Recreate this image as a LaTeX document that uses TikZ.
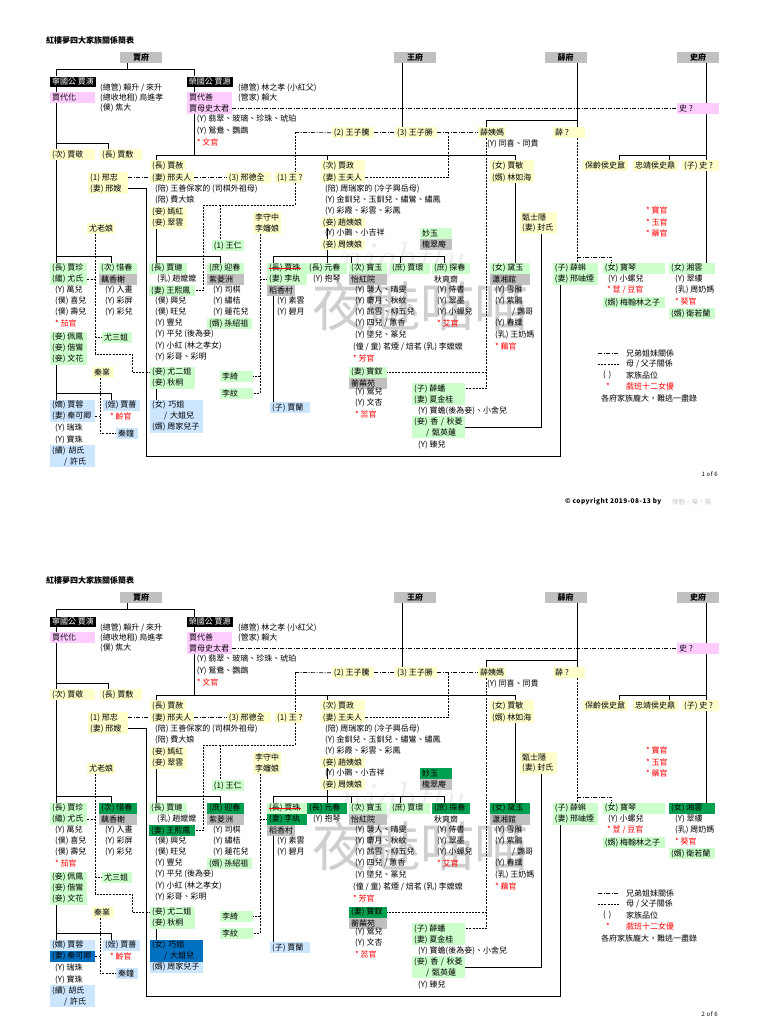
\documentclass[tikz,border=0pt]{standalone}
\usepackage{fontspec}
\newfontfamily\cjk{Noto Sans CJK TC}
\newfontfamily\cjkwide[LetterSpace=7]{Noto Sans CJK TC}
\usepackage{xcolor}
\usepackage{tikz}
\usetikzlibrary{backgrounds}
\pgfdeclarelayer{paper}
\pgfsetlayers{paper,background,main}
\definecolor{hdGray}{HTML}{C0C0C0}
\definecolor{bkPink}{HTML}{FFCCFF}
\definecolor{bkYellow}{HTML}{FFFFCC}
\definecolor{bkGreen}{HTML}{CCFFCC}
\definecolor{bkBlue}{HTML}{CCE6FF}
\definecolor{bkRoom}{HTML}{C0C0C0}
\definecolor{hlGreen}{HTML}{00A050}
\definecolor{hlBlue}{HTML}{0070C0}
\definecolor{txRed}{HTML}{FF0000}
\tikzset{
 hdbox/.style={fill=hdGray, minimum width=42pt, minimum height=11pt, inner sep=0pt, font=\cjk\fontsize{8}{11}\selectfont\bfseries},
 bx/.style={anchor=north west, inner xsep=2pt, inner ysep=0pt, minimum height=11pt},
 pink/.style={bx, fill=bkPink}, ylw/.style={bx, fill=bkYellow}, grn/.style={bx, fill=bkGreen},
 blu/.style={bx, fill=bkBlue}, room/.style={bx, fill=bkRoom}, blk/.style={bx, fill=black, text=white, minimum height=10pt},
 tx/.style={anchor=west, inner sep=0pt}, rd/.style={tx, text=txRed},
 kin/.style={line width=0.7pt},
 sib/.style={line width=0.7pt, dash pattern=on 4pt off 1.5pt on 1pt off 1.5pt},
 par/.style={line width=0.7pt, dash pattern=on 2pt off 1.2pt},
}
% box: name, style, x, top y, width, text
\newcommand{\famBox}[6]{\node[#2] (#1) at (#3,#4) {\makebox[\dimexpr#5pt-4pt\relax][l]{#6}};}
% text row: name, style, x, y, text
\newcommand{\famTxt}[5]{\node[#2] (#1) at (#3,#4) {#5};}
\begin{document}
\begin{tikzpicture}[x=1pt, y=-1pt, every node/.style={font=\cjk\fontsize{8}{11}\selectfont, inner sep=0pt}]
\begin{pgfonlayer}{paper}
\path[fill=white, use as bounding box] (0,0) rectangle (768,1024);
\end{pgfonlayer}
\foreach \pg in {1,2} {
\ifnum\pg=2
 \tikzset{star/.style={bx, fill=hlGreen}, starb/.style={bx, fill=hlBlue}}
\else
 \tikzset{star/.style={grn}, starb/.style={blu}}
\fi
\begin{scope}[shift={(0,{(\pg-1)*540})}, name prefix=p\pg-]
\node[tx, font=\cjk\fontsize{8}{11}\selectfont\bfseries] (title) at (46,40) {紅樓夢四大家族關係簡表};
% houses
\node[hdbox] (jiafuHd) at (141,57.5) {賈府};
\node[hdbox] (wangfuHd) at (415,57.5) {王府};
\node[hdbox] (xuefuHd) at (565.5,57.5) {薛府};
\node[hdbox] (shifuHd) at (698,57.5) {史府};
% first generations
\famBox{ningguo}{blk}{50}{76.5}{46}{寧國公 賈演}
\famBox{rongguo}{blk}{186.7}{76.5}{46}{榮國公 賈源}
\famBox{daihua}{pink}{50}{92}{45}{賈代化}
\famBox{daishan}{pink}{187}{92}{45}{賈代善}
\famBox{shitaijun}{pink}{187}{103}{45}{賈母史太君}
\famBox{shi}{pink}{677}{103}{42}{史 ?}
\famTxt{stw1}{tx}{100}{87.5}{(總管) 賴升 / 來升}
\famTxt{stw2}{tx}{100}{97.5}{(總收地租) 烏進孝}
\famTxt{stw3}{tx}{100}{107.5}{(僕) 焦大}
\famTxt{stw4}{tx}{238}{87.5}{(總管) 林之孝 (小紅父)}
\famTxt{stw5}{tx}{238}{97.5}{(管家) 賴大}
\famTxt{jmY1}{tx}{196.7}{119}{(Y) 翡翠、玻璃、珍珠、琥珀}
\famTxt{jmY2}{tx}{196.7}{131}{(Y) 鴛鴦、鸚鵡}
\famTxt{jmA}{rd}{196.7}{142.5}{* 文官}
% parents' generation
\famBox{jiajing}{ylw}{50}{149}{45}{(次) 賈敬}
\famBox{jiafu}{ylw}{100}{149}{42}{(長) 賈敷}
\famBox{jiashe}{ylw}{150}{160}{36}{(長) 賈赦}
\famBox{xingfuren}{ylw}{150}{172}{44}{(妻) 邢夫人}
\famBox{xingzhong}{ylw}{88}{172}{40}{(1) 邢忠}
\famBox{xingsao}{ylw}{88}{183}{40}{(妻) 邢嫂}
\famBox{xingdequan}{ylw}{226.7}{172}{44}{(3) 邢德全}
\famBox{wangq}{ylw}{275}{172}{28}{(1) 王 ?}
\famBox{wangziteng}{ylw}{331.7}{127}{42}{(2) 王子騰}
\famBox{wangzisheng}{ylw}{395}{127}{42}{(3) 王子勝}
\famBox{xueyima}{ylw}{478}{127}{28}{薛姨媽}
\famBox{xue}{ylw}{553}{127}{32}{薛 ?}
\famTxt{xyY}{tx}{487}{144}{(Y) 同喜、同貴}
\famBox{jiazheng}{ylw}{320.7}{160}{44}{(次) 賈政}
\famBox{wangfuren}{ylw}{320.7}{172}{44}{(妻) 王夫人}
\famBox{jiamin}{ylw}{490}{160}{44}{(女) 賈敏}
\famBox{linruhai}{ylw}{490}{172}{44}{(婿) 林如海}
\famBox{shinai}{ylw}{583}{160}{45}{保齡侯史鼐}
\famBox{shiding}{ylw}{633}{160}{45}{忠靖侯史鼎}
\famBox{shison}{ylw}{682}{160}{37}{(子) 史 ?}
\famTxt{jsP1}{tx}{155}{189}{(陪) 王善保家的 (司棋外祖母)}
\famTxt{jsP2}{tx}{155}{199.5}{(陪) 費大娘}
\famBox{yanhong}{ylw}{150}{206.5}{37}{(妾) 嫣紅}
\famBox{cuiyun}{ylw}{150}{217.5}{37}{(妾) 翠雲}
\famTxt{jzP1}{tx}{325}{189}{(陪) 周瑞家的 (冷子興岳母)}
\famTxt{jzY1}{tx}{325}{199.5}{(Y) 金釧兒、玉釧兒、繡鸞、繡鳳}
\famTxt{jzY2}{tx}{325}{210.5}{(Y) 彩霞、彩雲、彩鳳}
\famBox{zhaoyiniang}{ylw}{320.7}{217}{44}{(妾) 趙姨娘}
\famTxt{jzY3}{tx}{325}{233}{(Y) 小鵲、小吉祥}
\famBox{zhouyiniang}{ylw}{320.7}{239}{44}{(妾) 周姨娘}
\famBox{zhenshiyin}{ylw}{520}{211.5}{37}{甄士隱}
\famBox{fengshi}{ylw}{520}{222.5}{37}{(妻) 封氏}
\famBox{lishouzhong}{ylw}{253}{211.5}{28}{李守中}
\famBox{lishenniang}{ylw}{253}{222.5}{28}{李嬸娘}
\famBox{youlaoniang}{ylw}{87}{222.5}{28}{尤老娘}
\famBox{wangren}{grn}{211.7}{240}{32}{(1) 王仁}
\famBox{miaoyu}{star}{420}{228}{32}{妙玉}
\famBox{longcui}{room}{420}{239}{32}{櫳翠庵}
\famTxt{actA}{rd}{646}{210}{* 寶官}
\famTxt{actB}{rd}{646}{222}{* 玉官}
\famTxt{actC}{rd}{646}{233}{* 藥官}
% children's generation
\famBox{jiazhen}{grn}{50}{262.5}{37}{(長) 賈珍}
\famBox{youshi}{grn}{50}{273.5}{37}{(繼) 尤氏}
\famTxt{jzhY1}{tx}{55}{290}{(Y) 萬兒}
\famTxt{jzhY2}{tx}{55}{301}{(僕) 喜兒}
\famTxt{jzhY3}{tx}{55}{312}{(僕) 壽兒}
\famTxt{jzhA}{rd}{55}{323}{* 茄官}
\famBox{peifeng}{grn}{50}{331.5}{37}{(妾) 佩鳳}
\famBox{xieluan}{grn}{50}{342.5}{37}{(妾) 偕鸞}
\famBox{wenhua}{grn}{50}{353.5}{37}{(妾) 文花}
\famBox{xichun}{star}{99}{262.5}{38}{(次) 惜春}
\famBox{ouxiang}{room}{99}{273.5}{38}{藕香榭}
\famTxt{xcY1}{tx}{105}{290}{(Y) 入畫}
\famTxt{xcY2}{tx}{105}{301}{(Y) 彩屏}
\famTxt{xcY3}{tx}{105}{312}{(Y) 彩兒}
\famBox{yousanjie}{grn}{102}{331.5}{30}{尤三姐}
\famBox{qinye}{ylw}{92}{367}{22}{秦業}
\famBox{jialian}{grn}{149}{262.5}{38}{(長) 賈璉}
\famTxt{jlR}{tx}{157}{279}{(乳) 趙嬤嬤}
\famBox{wangxifeng}{star}{149}{285}{46}{(妻) 王熙鳳}
\famTxt{jlY1}{tx}{155}{301}{(僕) 興兒}
\famTxt{jlY2}{tx}{155}{312}{(僕) 旺兒}
\famTxt{jlY3}{tx}{155}{323}{(Y) 豐兒}
\famTxt{jlY4}{tx}{155}{334}{(Y) 平兒 (後為妾)}
\famTxt{jlY5}{tx}{155}{345.5}{(Y) 小紅 (林之孝女)}
\famTxt{jlY6}{tx}{155}{357}{(Y) 彩哥、彩明}
\famBox{youerjie}{grn}{150}{366.5}{45}{(妾) 尤二姐}
\famBox{qiutong}{grn}{150}{377.5}{45}{(妾) 秋桐}
\famBox{yingchun}{star}{207}{262.5}{37}{(庶) 迎春}
\famBox{ziling}{room}{207}{273.5}{37}{紫菱洲}
\famTxt{ycY1}{tx}{213}{290}{(Y) 司棋}
\famTxt{ycY2}{tx}{213}{301}{(Y) 繡桔}
\famTxt{ycY3}{tx}{213}{312}{(Y) 蓮花兒}
\famBox{sunshaozu}{grn}{207}{318}{45}{(婿) 孫紹祖}
\famBox{liqi}{grn}{220}{371}{33}{李綺}
\famBox{liwen}{grn}{220}{387.5}{33}{李紋}
\famBox{jiazhu}{grn}{267}{262.5}{40}{(長) 賈珠}
\famBox{liwan}{star}{267}{273.5}{40}{(妻) 李紈}
\famBox{daoxiang}{room}{267}{284.5}{28}{稻香村}
\famTxt{lwY1}{tx}{277}{301}{(Y) 素雲}
\famTxt{lwY2}{tx}{277}{312}{(Y) 碧月}
\famBox{yuanchun}{star}{307}{262.5}{40}{(長) 元春}
\famTxt{yuY1}{tx}{313}{279}{(Y) 抱琴}
\famBox{baoyu}{grn}{349}{262.5}{38}{(次) 寶玉}
\famBox{yihong}{room}{349}{273.5}{38}{怡紅院}
\famTxt{byY1}{tx}{355}{290}{(Y) 襲人、晴雯}
\famTxt{byY2}{tx}{355}{301}{(Y) 麝月、秋紋}
\famTxt{byY3}{tx}{355}{312}{(Y) 茜雪、柳五兒}
\famTxt{byY4}{tx}{355}{323}{(Y) 四兒 / 蕙香}
\famTxt{byY5}{tx}{355}{334.5}{(Y) 墜兒、篆兒}
\famTxt{byY6}{tx}{353}{346.5}{(僮 / 童) 茗煙 / 焙茗 (乳) 李嬤嬤}
\famTxt{byA}{rd}{353}{358}{* 芳官}
\famBox{jiahuan}{grn}{390}{262.5}{40}{(庶) 賈環}
\famBox{tanchun}{star}{432}{262.5}{38}{(庶) 探春}
\famTxt{qiushuang}{tx}{434}{279}{秋爽齋}
\famTxt{tcY1}{tx}{437}{290}{(Y) 侍書}
\famTxt{tcY2}{tx}{437}{301}{(Y) 翠墨}
\famTxt{tcY3}{tx}{437}{312}{(Y) 小蟬兒}
\famTxt{tcA}{rd}{437}{323}{* 艾官}
\famBox{daiyu}{star}{490}{262.5}{40}{(女) 黛玉}
\famBox{xiaoxiang}{room}{490}{273.5}{40}{瀟湘館}
\famTxt{dyY1}{tx}{495}{290}{(Y) 雪雁}
\famTxt{dyY2}{tx}{495}{301}{(Y) 紫鵑}
\famTxt{dyY3}{tx}{512}{312}{/ 鸚哥}
\famTxt{dyY4}{tx}{495}{323}{(Y) 春纖}
\famTxt{dyY5}{tx}{495}{334.5}{(乳) 王奶媽}
\famTxt{dyA}{rd}{495}{346}{* 藕官}
\famBox{xueke}{grn}{552.7}{262.5}{45}{(子) 薛蝌}
\famBox{xiuyan}{grn}{552.7}{273.5}{45}{(妻) 邢岫煙}
\famBox{baoqin}{grn}{602.7}{262.5}{62}{(女) 寶琴}
\famTxt{bqY1}{tx}{608}{279}{(Y) 小螺兒}
\famTxt{bqA}{rd}{607}{289.5}{* 荳 / 豆官}
\famBox{meihanlin}{grn}{602.7}{297}{62}{(婿) 梅翰林之子}
\famBox{xiangyun}{star}{669}{262.5}{46}{(女) 湘雲}
\famTxt{xyY1}{tx}{675}{279}{(Y) 翠縷}
\famTxt{xyY2}{tx}{675}{290}{(乳) 周奶媽}
\famTxt{xyA}{rd}{675}{301}{* 葵官}
\famBox{weiruolan}{grn}{669}{308}{46}{(婿) 衛若蘭}
\famBox{baochai}{star}{349}{366.5}{38}{(妻) 寶釵}
\famBox{hengwu}{room}{349}{377.5}{38}{蘅蕪苑}
\famTxt{bcY1}{tx}{355}{392}{(Y) 鶯兒}
\famTxt{bcY2}{tx}{355}{403}{(Y) 文杏}
\famTxt{bcA}{rd}{355}{414.5}{* 蕊官}
\famBox{xuepan}{grn}{412}{383}{53}{(子) 薛蟠}
\famBox{xiajingui}{grn}{412}{394}{53}{(妻) 夏金桂}
\famTxt{xpY1}{tx}{418}{411}{(Y) 寶蟾(後為妾)、小舍兒}
\node[grn, minimum height=22pt, text width=49pt, align=left] (xiangling) at (412,416) {(妾) 香 / 秋菱\\\hspace*{12pt}/ 甄英蓮};
\famTxt{xpY2}{tx}{418}{445}{(Y) 臻兒}
% grandchildren
\famBox{jiarong}{blu}{50}{399.5}{45}{(嫡) 賈蓉}
\famBox{qinkeqing}{starb}{50}{410.5}{45}{(妻) 秦可卿}
\famTxt{qkY1}{tx}{55}{428}{(Y) 瑞珠}
\famTxt{qkY2}{tx}{55}{439.5}{(Y) 寶珠}
\node[blu, minimum height=22pt, text width=41pt, align=left] (huxu) at (50,445) {(續) 胡氏\\\hspace*{12pt}/ 許氏};
\famBox{jiaqiang}{blu}{103}{399.5}{37}{(姪) 賈薔}
\famTxt{jqA}{rd}{110}{416}{* 齡官}
\famBox{qinzhong}{blu}{116}{428}{22}{秦鐘}
\node[starb, minimum height=22pt, text width=49pt, align=left] (qiaojie) at (150,399.5) {(女) 巧姐\\\hspace*{12pt}/ 大姐兒};
\famBox{zhoujia}{blu}{150}{421.5}{53}{(婿) 周家兒子}
\famBox{jialan}{blu}{270}{402}{40}{(子) 賈蘭}
\draw[txRed, line width=0.6pt] ([xshift=2pt]jiazhu.west) -- ([xshift=-6pt]jiazhu.east);
% legend
\coordinate (lgA) at (598,353); \coordinate (lgB) at (619,353);
\coordinate (lgC) at (598,364); \coordinate (lgD) at (619,364);
\draw[sib] (lgA) -- (lgB);
\draw[par] (lgC) -- (lgD);
\famTxt{lg1}{tx}{626}{353}{兄弟姐妹關係}
\famTxt{lg2}{tx}{626}{364}{母 / 父子關係}
\famTxt{lg3k}{tx}{603}{375}{(\,\,)}
\famTxt{lg3}{tx}{626}{375}{家族品位}
\famTxt{lg4k}{rd}{606}{386}{*}
\famTxt{lg4}{rd}{626}{386}{戲班十二女優}
\famTxt{lg5}{tx}{601}{398}{各府家族龐大，難逃一盡錄}
\node[tx, anchor=east, font=\cjkwide\fontsize{6}{7}\selectfont] (pgno) at (718,474) {\pg{} of 6};
\ifnum\pg=1
 \node[tx, font=\cjkwide\fontsize{6.5}{7}\selectfont\bfseries] (copy) at (565,502) {© copyright 2019-08-13 by};
 \node[tx, text=gray!45, font=\cjk\fontsize{6.5}{7}\selectfont] (sign) at (672,502) {夜魅·喵·喵};
\fi
\begin{scope}[on background layer]
% watermark
\node[font=\fontsize{44}{44}\selectfont\itshape, text=gray!14] (wmscript) at (400,262) {nightly};
\node[font=\cjk\fontsize{54}{54}\selectfont, text=gray!38] (wmark) at (420,306) {夜魅喵喵};
% Jia lines
\coordinate (jfTop) at (127,69); \coordinate (jfL) at (56.7,69); \coordinate (jfR) at (194,69);
\draw[kin] (jiafuHd.south -| jfTop) -- (jfTop);
\draw[kin] (ningguo.north -| jfL) |- (jfR) -- (rongguo.north -| jfR);
\draw[kin] (ningguo.south -| jfL) -- (daihua.north -| jfL);
\coordinate (jjR) at (108.3,143.3);
\draw[kin] (daihua.south -| jfL) -- (jiajing.north -| jfL);
\draw[kin] (daihua.south -| jfL) |- (jjR) -- (jiafu.north -| jjR);
\coordinate (jzR) at (111.7,256.7);
\draw[kin] (jiajing.south -| jfL) -- (jiazhen.north -| jfL);
\draw[kin] (jiajing.south -| jfL) |- (jzR) -- (xichun.north -| jzR);
\coordinate (jrR) at (111.7,393);
\draw[kin] (wenhua.south -| jfL) -- (jiarong.north -| jfL);
\draw[kin] (wenhua.south -| jfL) |- (jrR) -- (jiaqiang.north -| jrR);
\draw[kin] (rongguo.south -| jfR) -- (daishan.north -| jfR);
\coordinate (rgL) at (156.7,155); \coordinate (rgM) at (327.3,155); \coordinate (rgR) at (515,155);
\draw[kin] (shitaijun.south -| jfR) -- (jfR |- rgL);
\draw[kin] (jiashe.north -| rgL) -- (rgL) -- (rgR) -- (jiamin.north -| rgR);
\draw[kin] (rgM) -- (jiazheng.north -| rgM);
\coordinate (jsR) at (220,256.7);
\draw[kin] (cuiyun.south -| rgL) |- (jsR) -- (yingchun.north -| jsR);
\draw[kin] (rgL |- jsR) -- (jialian.north -| rgL);
\draw[kin] (qiutong.south -| rgL) -- (qiaojie.north -| rgL);
\draw[kin] (linruhai.south -| rgR) -- (daiyu.north -| rgR);
\coordinate (jzL) at (273,256.7); \coordinate (jzRr) at (444,256.7);
\coordinate (byX) at (351.7,256.7); \coordinate (jhX) at (400,256.7);
\draw[kin] (zhaoyiniang.south -| rgM) -- (zhouyiniang.north -| rgM);
\draw[kin] (zhouyiniang.south -| rgM) -- (rgM |- jzL) -- (yuanchun.north -| rgM);
\draw[kin] (jiazhu.north -| jzL) -- (jzL) -- (jzRr) -- (tanchun.north -| jzRr);
\foreach \k/\c in {baoyu/byX, jiahuan/jhX}
 \draw[kin] (\c) -- (\k.north -| \c);
\draw[kin] (daoxiang.south -| jzL) -- (jialan.north -| jzL);
% Xing lines
\draw[sib] (xingzhong) -- (xingfuren);
\draw[sib] (xingfuren) -- (xingdequan);
\coordinate (xsA) at (146,188); \coordinate (xsB) at (560.7,456);
\draw[kin] (xingsao.east) -- (xingsao.east -| xsA) |- (xsB) -- (xiuyan.south -| xsB);
% Wang lines
\coordinate (wfX) at (402.7,100);
\draw[kin] (wangfuHd.south -| wfX) -- (wangzisheng.north -| wfX);
\coordinate (wgA) at (295,132.5); \coordinate (wgB) at (448,132.5);
\draw[sib] (wgA) -- (wangziteng.west);
\draw[sib] (wangziteng) -- (wangzisheng);
\draw[sib] (wangzisheng) -- (xueyima);
\draw[par] (wgA) -- (wangq.north -| wgA);
\draw[par] (wgB) |- (wangfuren.east);
\coordinate (wrA) at (203,205); \coordinate (wrB) at (220,205);
\draw[par] (wangq.south -| wgA) |- (wrA) |- (wangxifeng.east);
\draw[par] (wrB) -- (wangren.north -| wrB);
% Xue lines
\coordinate (xfX) at (577,120); \coordinate (xfY) at (486.7,120);
\draw[kin] (xuefuHd.south -| xfX) -- (xue.north -| xfX);
\draw[kin] (xfX) -- (xfY) -- (xueyima.north -| xfY);
\draw[par] (xue.south -| xfX) -- (xueke.north -| xfX);
\coordinate (xkR) at (611.7,257);
\draw[sib] (xfX |- xkR) -- (xkR) -- (baoqin.north -| xkR);
\draw[par] (xueyima.south -| xfY) |- (xuepan.east);
\draw[par] (xfY |- baochai.east) -- (baochai.east);
\coordinate (zsX) at (541.7,427);
\draw[kin] (fengshi.south -| zsX) |- (xiangling.east);
% Shi lines
\draw[sib] (shitaijun) -- (shi);
\coordinate (sfX) at (706.7,155); \coordinate (sfL) at (619,155); \coordinate (sfM) at (669,155);
\draw[kin] (shifuHd.south -| sfX) -- (shi.north -| sfX);
\draw[kin] (shi.south -| sfX) -- (sfX) -- (sfL) -- (shinai.north -| sfL);
\draw[kin] (sfM) -- (shiding.north -| sfM);
\draw[kin] (sfX) -- (shison.north -| sfX);
\draw[kin] (shison.south -| sfX) -- (xiangyun.north -| sfX);
% You, Li, Qin lines
\coordinate (ylX) at (95,354); \coordinate (ylY) at (132,354);
\draw[par] (youlaoniang.south -| ylX) -- (ylX) -- (ylY) |- (youerjie.west);
\draw[par] (youshi.east) -- (youshi.east -| ylX);
\draw[par] (ylX |- yousanjie.west) -- (yousanjie.west);
\coordinate (lsX) at (260,280);
\draw[par] (lishenniang.south -| lsX) |- (liwen.east);
\draw[par] (lsX |- liwan.west) -- (liwan.west);
\draw[par] (lsX |- liqi.east) -- (liqi.east);
\coordinate (qyX) at (100,400);
\draw[par] (qinye.south -| qyX) |- (qinzhong.west);
\draw[par] (qinkeqing.east) -- (qinkeqing.east -| qyX);
\end{scope}
\end{scope}
}
\end{tikzpicture}
\end{document}
